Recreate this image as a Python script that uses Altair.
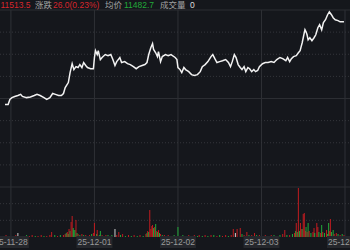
import altair as alt
import pandas as pd

# ---- header values ----
last_price = 11513.5
change = 26.0
change_pct = 0.23
avg_price = 11482.7
volume_now = 0
prev_close = last_price - change

# ---- intraday price (minute index, price), rows of 10 ----
price_t = [
    -17, -8, -3, 3, 11, 20, 28, 33, 45, 56,
    67, 75, 84, 95, 103, 112, 120, 128, 137, 145,
    151, 156, 165, 170, 176, 181, 187, 193, 198, 204,
    209, 215, 220, 229, 237, 240, 243, 248, 251, 257,
    262, 271, 279, 287, 293, 299, 304, 313, 318, 327,
    335, 343, 352, 360, 368, 377, 385, 391, 396, 402,
    407, 410, 416, 421, 424, 430, 435, 444, 452, 460,
    472, 477, 480, 486, 491, 497, 502, 511, 519, 527,
    536, 544, 550, 558, 566, 575, 580, 586, 592, 600,
    608, 617, 625, 631, 636, 642, 647, 653, 659, 664,
    670, 675, 681, 686, 692, 698, 703, 709, 714, 723,
    731, 739, 748, 756, 764, 773, 781, 790, 795, 801,
    806, 812, 820, 826, 831, 834, 837, 840, 843, 845,
    848, 851, 854, 859, 865, 871, 876, 882, 887, 893,
    898, 904, 910, 915, 921, 926, 932, 940, 946, 957,
]
price_v = [
    11485.5, 11485.5, 11487.2, 11487.8, 11488.2, 11488.5, 11488.9, 11488.2, 11487.8, 11488.0,
    11488.5, 11488.9, 11488.5, 11487.8, 11487.2, 11487.8, 11489.2, 11488.9, 11488.5, 11488.5,
    11489.2, 11491.2, 11492.9, 11496.3, 11499.3, 11497.3, 11498.3, 11498.0, 11499.0, 11498.0,
    11499.7, 11498.7, 11498.0, 11497.6, 11497.6, 11501.4, 11503.7, 11502.4, 11503.7, 11500.7,
    11501.4, 11502.4, 11502.0, 11502.4, 11500.7, 11498.7, 11500.0, 11501.4, 11499.7, 11500.0,
    11499.3, 11499.0, 11498.3, 11497.6, 11498.3, 11498.7, 11499.0, 11499.7, 11502.4, 11504.7,
    11506.1, 11504.1, 11503.0, 11501.7, 11503.4, 11500.0, 11501.7, 11502.4, 11502.0, 11502.4,
    11501.4, 11500.7, 11498.0, 11497.3, 11496.3, 11498.0, 11497.3, 11496.6, 11495.6, 11495.3,
    11495.6, 11496.6, 11498.3, 11499.0, 11500.0, 11501.7, 11502.4, 11501.0, 11499.7, 11500.0,
    11500.3, 11500.7, 11499.7, 11498.3, 11500.0, 11502.4, 11501.4, 11499.0, 11498.0, 11497.3,
    11498.3, 11496.6, 11498.0, 11497.6, 11496.6, 11497.3, 11496.6, 11497.0, 11498.3, 11499.3,
    11499.7, 11499.7, 11500.0, 11499.7, 11500.7, 11501.4, 11501.0, 11500.3, 11501.4, 11500.0,
    11501.0, 11501.7, 11502.0, 11503.0, 11503.7, 11505.1, 11506.4, 11508.1, 11509.8, 11510.8,
    11510.1, 11509.1, 11507.4, 11508.1, 11507.1, 11508.1, 11509.1, 11511.5, 11512.5, 11510.8,
    11513.2, 11514.2, 11515.9, 11516.9, 11515.9, 11514.9, 11514.2, 11513.9, 11513.5, 11513.5,
]

# ---- volume bars, rows of 10: minute index, volume, direction (r=up, g=down, w=flat) ----
vol_t = [
    -14, -6, 6, 14, 20, 28, 36, 45, 53, 61,
    70, 78, 87, 95, 103, 112, 117, 126, 134, 142,
    151, 156, 159, 162, 165, 167, 170, 173, 176, 179,
    181, 184, 187, 190, 193, 198, 204, 209, 215, 220,
    226, 232, 237, 240, 246, 248, 254, 257, 262, 268,
    273, 279, 285, 290, 299, 304, 310, 315, 321, 329,
    338, 346, 354, 363, 371, 380, 388, 391, 393, 396,
    399, 402, 405, 407, 410, 413, 416, 419, 421, 424,
    427, 430, 435, 441, 447, 452, 458, 463, 469, 474,
    480, 486, 494, 502, 511, 519, 527, 536, 541, 550,
    558, 566, 575, 583, 592, 600, 608, 617, 625, 633,
    639, 645, 650, 659, 664, 670, 678, 684, 692, 700,
    706, 714, 723, 731, 739, 748, 756, 764, 773, 781,
    787, 793, 801, 809, 815, 818, 820, 823, 826, 829,
    832, 834, 837, 840, 843, 846, 848, 851, 854, 857,
    862, 868, 871, 873, 879, 882, 885, 890, 893, 896,
    901, 907, 910, 913, 915, 918, 921, 926, 929, 935,
    940, 946, 952, 957,
]
vol_v = [
    2, 1, 1, 2, 4, 1, 1, 2, 1, 2,
    1, 1, 2, 1, 1, 2, 5, 2, 1, 2,
    2, 3, 4, 5, 3, 8, 6, 15, 21, 9,
    7, 7, 17, 4, 3, 2, 3, 2, 2, 1,
    2, 3, 4, 14, 3, 7, 2, 6, 2, 1,
    2, 2, 1, 2, 8, 2, 5, 2, 3, 1,
    2, 1, 2, 1, 2, 1, 3, 4, 6, 5,
    27, 8, 11, 12, 9, 10, 13, 6, 5, 7,
    4, 3, 2, 2, 1, 2, 1, 1, 2, 1,
    10, 1, 2, 1, 2, 1, 2, 1, 2, 1,
    2, 1, 2, 2, 1, 2, 1, 2, 1, 2,
    8, 4, 8, 9, 3, 2, 5, 2, 2, 4,
    2, 2, 1, 2, 1, 2, 2, 1, 2, 3,
    7, 2, 2, 3, 4, 6, 14, 5, 49, 6,
    14, 8, 8, 23, 24, 6, 10, 5, 14, 6,
    4, 5, 9, 4, 14, 10, 5, 4, 12, 5,
    4, 7, 3, 14, 6, 18, 5, 7, 3, 4,
    3, 2, 3, 2,
]
vol_dir_codes = (
    "rgrrwgrgrr"
    "grrgrrrgrg"
    "rrgrgrgrrg"
    "ggrgrgrgrg"
    "rgrrgrggrg"
    "rgrgwrrgrg"
    "rgrgrgrgrg"
    "rrrrgrgrgr"
    "grgrgrgrgr"
    "grgrrgrgrg"
    "rgrgrgrrgr"
    "rwrrgrrgrr"
    "grgrgrgrgr"
    "rgrgrgrgrg"
    "rrgrrrgrgr"
    "grrgrrgrgr"
    "grggrrggrr"
    "grgr"
)
dir_names = {"r": "up", "g": "down", "w": "flat"}
vol_dir = [dir_names[c] for c in vol_dir_codes]

day_t = [0, 240, 480, 720, 960]
day_labels = ["25-11-28", "25-12-01", "25-12-02", "25-12-03", "25-12-04"]

price_lo, price_hi = prev_close - 30, prev_close + 30
dotted_prices = [prev_close + d for d in (-22.5, -15, -7.5, 7.5, 15, 22.5)]
solid_prices = [price_lo, prev_close, price_hi]
vol_max = 50
vol_grid = [vol_max / 3, vol_max * 2 / 3]

BG = "#15171c"
RED = "#d8262c"
GREEN = "#22a93a"
GRAY = "#a3a3a3"
FONT = "Liberation Sans, Noto Sans CJK SC"

xs = alt.Scale(domain=[-17, 960], nice=False, zero=False)
py = alt.Scale(domain=[price_lo, price_hi], range=[187, 10], nice=False, zero=False)
vy = alt.Scale(domain=[0, vol_max], range=[237, 187], nice=False, zero=True)

price_df = pd.DataFrame({"t": price_t, "p": price_v})
vol_df = pd.DataFrame({"t": vol_t, "v": vol_v, "d": vol_dir})
days_df = pd.DataFrame({"t": day_t, "lab": day_labels})

vlines = alt.Chart(days_df).mark_rule(color="#2f3136", strokeWidth=1).encode(
    x=alt.X("t:Q", scale=xs, axis=None), y=alt.value(10), y2=alt.value(237))

dotted = alt.Chart(pd.DataFrame({"p": dotted_prices})).mark_rule(
    color="#34363b", strokeWidth=1, strokeDash=[1, 2]).encode(
    y=alt.Y("p:Q", scale=py, axis=None), x=alt.value(0), x2=alt.value(350))

solid = alt.Chart(pd.DataFrame({"p": solid_prices})).mark_rule(
    color="#2c2e33", strokeWidth=1).encode(
    y=alt.Y("p:Q", scale=py, axis=None), x=alt.value(0), x2=alt.value(350))

vdotted = alt.Chart(pd.DataFrame({"v": vol_grid})).mark_rule(
    color="#34363b", strokeWidth=1, strokeDash=[1, 2]).encode(
    y=alt.Y("v:Q", scale=vy, axis=None), x=alt.value(0), x2=alt.value(350))

line = alt.Chart(price_df).mark_line(color="#f2f2f2", strokeWidth=1.5).encode(
    x=alt.X("t:Q", scale=xs, axis=None),
    y=alt.Y("p:Q", scale=py, axis=None))

bars = alt.Chart(vol_df).mark_rule(strokeWidth=1).encode(
    x=alt.X("t:Q", scale=xs, axis=None),
    y=alt.Y("v:Q", scale=vy, axis=None),
    y2=alt.datum(0),
    color=alt.Color("d:N", scale=alt.Scale(domain=["up", "down", "flat"],
                                           range=["#c01c20", GREEN, "#cfcfcf"]),
                    legend=None))

label_box = alt.Chart(days_df).mark_bar(size=36, color="#25272c").encode(
    x=alt.X("t:Q", scale=xs, axis=None), y=alt.value(236), y2=alt.value(248))

label_txt = alt.Chart(days_df).mark_text(
    color="#9a9a9a", fontSize=8.5, font=FONT, baseline="middle").encode(
    x=alt.X("t:Q", scale=xs, axis=None), y=alt.value(242), text="lab:N")


def header(text, xpos, color):
    return alt.Chart(pd.DataFrame({"s": [text]})).mark_text(
        color=color, fontSize=8.5, font=FONT, align="left", baseline="middle").encode(
        x=alt.value(xpos), y=alt.value(5), text="s:N")


heads = [
    header(f"{last_price:.1f}", 0.5, RED),
    header("涨跌", 35, GRAY),
    header(f"{change:.1f}({change_pct:.2f}%)", 53, RED),
    header("均价", 105, GRAY),
    header(f"{avg_price:.1f}", 124, GREEN),
    header("成交量", 160, GRAY),
    header(f"{volume_now}", 190, "#dddddd"),
]

chart = alt.layer(
    vlines, dotted, solid, vdotted, bars, line, label_box, label_txt, *heads
).resolve_scale(y="independent").properties(
    width=350, height=250,
    autosize=alt.AutoSizeParams(type="none"),
    padding=0,
).configure(background=BG).configure_view(strokeWidth=0)

chart.save("out.html", embed_options={"renderer": "svg", "actions": False})
